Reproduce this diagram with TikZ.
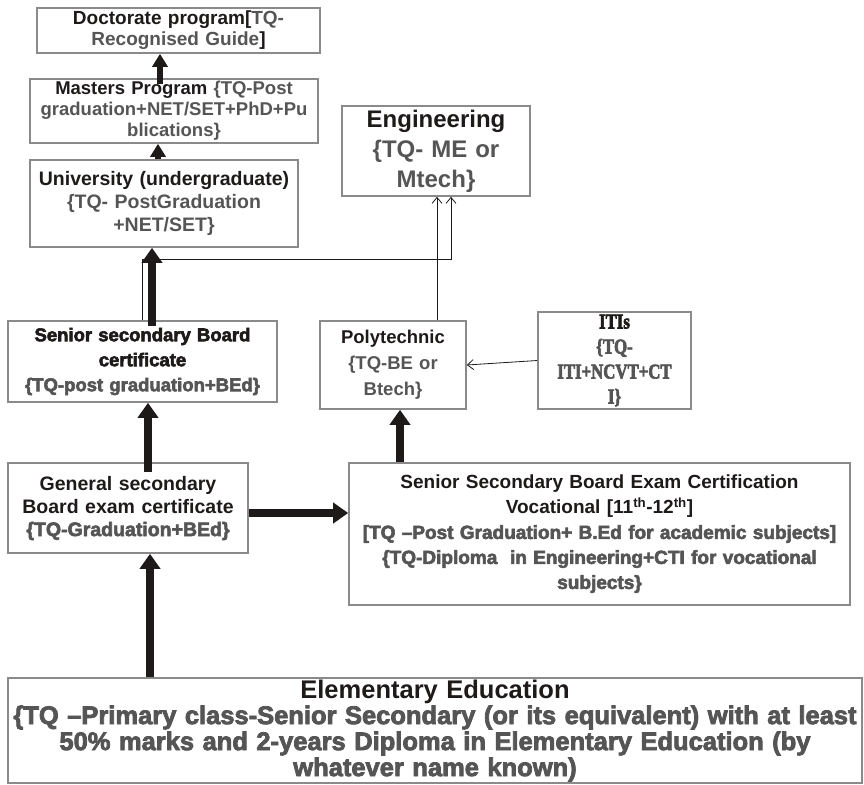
\documentclass[tikz,border=0pt]{standalone}
\usepackage{fontspec}
\setmainfont{Liberation Sans}
\newfontfamily\heavyfont{Liberation Sans Bold}[FakeBold=3]
\newfontfamily\itifont{Liberation Serif Bold}[FakeStretch=0.8,FakeBold=3]
\usetikzlibrary{arrows.meta}
\definecolor{ink}{HTML}{1E1A1A}
\definecolor{tqgray}{HTML}{555555}
\definecolor{boxgray}{HTML}{8A8A8A}
\newcommand\fs[2]{\fontsize{#1pt}{#2pt}\selectfont\bfseries}
\newcommand\tq[1]{\textcolor{tqgray}{#1}}
\newcommand\hv[1]{{\heavyfont\mdseries #1}}
\tikzset{
  level/.style = {rectangle, draw=boxgray, line width=1.6pt, fill=white, inner sep=0pt, align=center, text=ink},
  push/.style  = {draw=ink, line width=8pt, -{Triangle[length=15pt,width=20pt]}},
  slim/.style  = {draw=ink, line width=6pt, -{Triangle[length=13pt,width=15pt]}},
  feed/.style  = {draw=ink, line width=0.8pt, -{Straight Barb[length=6pt,width=10pt]}}
}
\begin{document}
\begin{tikzpicture}[x=1pt,y=-1pt]
  \useasboundingbox[fill=white] (0,0) rectangle (864,784);

  % colonna sinistra, in alto
  \node[level, minimum width=283, minimum height=45, text width=278, font=\fs{19}{21}] (doc) at (178.5,30.5)
    {Doctorate program[\tq{TQ-}\\ \tq{Recognised Guide}]};
  \node[level, minimum width=288, minimum height=64, text width=284, font=\fs{18.5}{21}] (mast) at (174,111)
    {Masters Program \tq{\{TQ-Post\\ graduation+NET/SET+PhD+Pu\\ blications\}}};
  \node[level, minimum width=268, minimum height=87, text width=262, font=\fs{19.5}{23}] (univ) at (164,203.5)
    {University (undergraduate)\\ \tq{\{TQ- PostGraduation\\ +NET/SET\}}};

  % engineering
  \node[level, minimum width=188, minimum height=90, text width=184, font=\fs{24}{30}] (eng) at (436,151)
    {Engineering\\ \tq{\{TQ- ME or\\ Mtech\}}};

  % livello centrale
  \node[level, minimum width=269, minimum height=81, text width=265, font=\fs{18.5}{25}] (sen) at (142.5,361.5)
    {\hv{Senior secondary Board\\ certificate\\ \tq{\{TQ-post graduation+BEd\}}}};
  \node[level, minimum width=146, minimum height=88, text width=142, font=\fs{18.5}{26}] (poly) at (393,365)
    {Polytechnic\\ \tq{\{TQ-BE or\\ Btech\}}};
  \node[level, minimum width=153, minimum height=97, text width=149, font=\fs{21}{25}] (iti) at (614.5,360.5)
    {\itifont\mdseries ITIs\\ \tq{\{TQ-\\ ITI+NCVT+CT\\ I\}}};

  % secondario
  \node[level, minimum width=240, minimum height=90, text width=236, font=\fs{19.5}{23}] (gen) at (128,508)
    {General secondary\\ Board exam certificate\\ \hv{\tq{\{TQ-Graduation+BEd\}}}};
  \node[level, minimum width=501, minimum height=142, text width=497, font=\fs{19}{25}] (voc) at (599.5,534)
    {Senior Secondary Board Exam Certification\\ Vocational {[}11\textsuperscript{th}-12\textsuperscript{th}{]}\\
     \hv{\tq{{[}TQ –Post Graduation+ B.Ed for academic subjects{]}\\
     \{TQ-Diploma\ \ in Engineering+CTI for vocational\\ subjects\}}}};

  % base
  \node[level, minimum width=854, minimum height=105, text width=850, font=\fs{25.5}{26}] (elem) at (435,730.5)
    {{\fontsize{25.5pt}{28pt}\selectfont Elementary Education}\\
     \hv{\tq{\{TQ –Primary class-Senior Secondary (or its equivalent) with at least\\
     50\% marks and 2-years Diploma in Elementary Education (by\\ whatever name known)}}};

  % frecce spesse
  \draw[slim, shorten <=-6pt] ([xshift=-14pt]mast.north) -- ([xshift=-14pt]mast.north |- doc.south);
  \draw[slim] ([xshift=-6pt]univ.north) -- ([xshift=-6pt]univ.north |- mast.south);
  \draw[push, shorten <=-6pt] ([xshift=9.5pt]sen.north) -- ([xshift=9.5pt]sen.north |- univ.south);
  \draw[push, shorten <=-10pt] ([xshift=20pt]gen.north) -- ([xshift=20pt]gen.north |- sen.south);
  \draw[push] ([xshift=22pt]gen.south |- elem.north) -- ([xshift=22pt]gen.south);
  \draw[push] ([yshift=-5pt]gen.east) -- ([yshift=-5pt]gen.east -| voc.west);
  \draw[push] ([xshift=7pt]poly.south |- voc.north) -- ([xshift=7pt]poly.south);

  % frecce sottili
  \coordinate (knee) at (451,259);
  \draw[feed] (sen.north) |- (knee) -- (knee |- eng.south);
  \draw[feed] ([xshift=44pt]poly.north) -- ([xshift=44pt]poly.north |- eng.south);
  \draw[feed] (iti.west) -- (poly.east);
\end{tikzpicture}
\end{document}
